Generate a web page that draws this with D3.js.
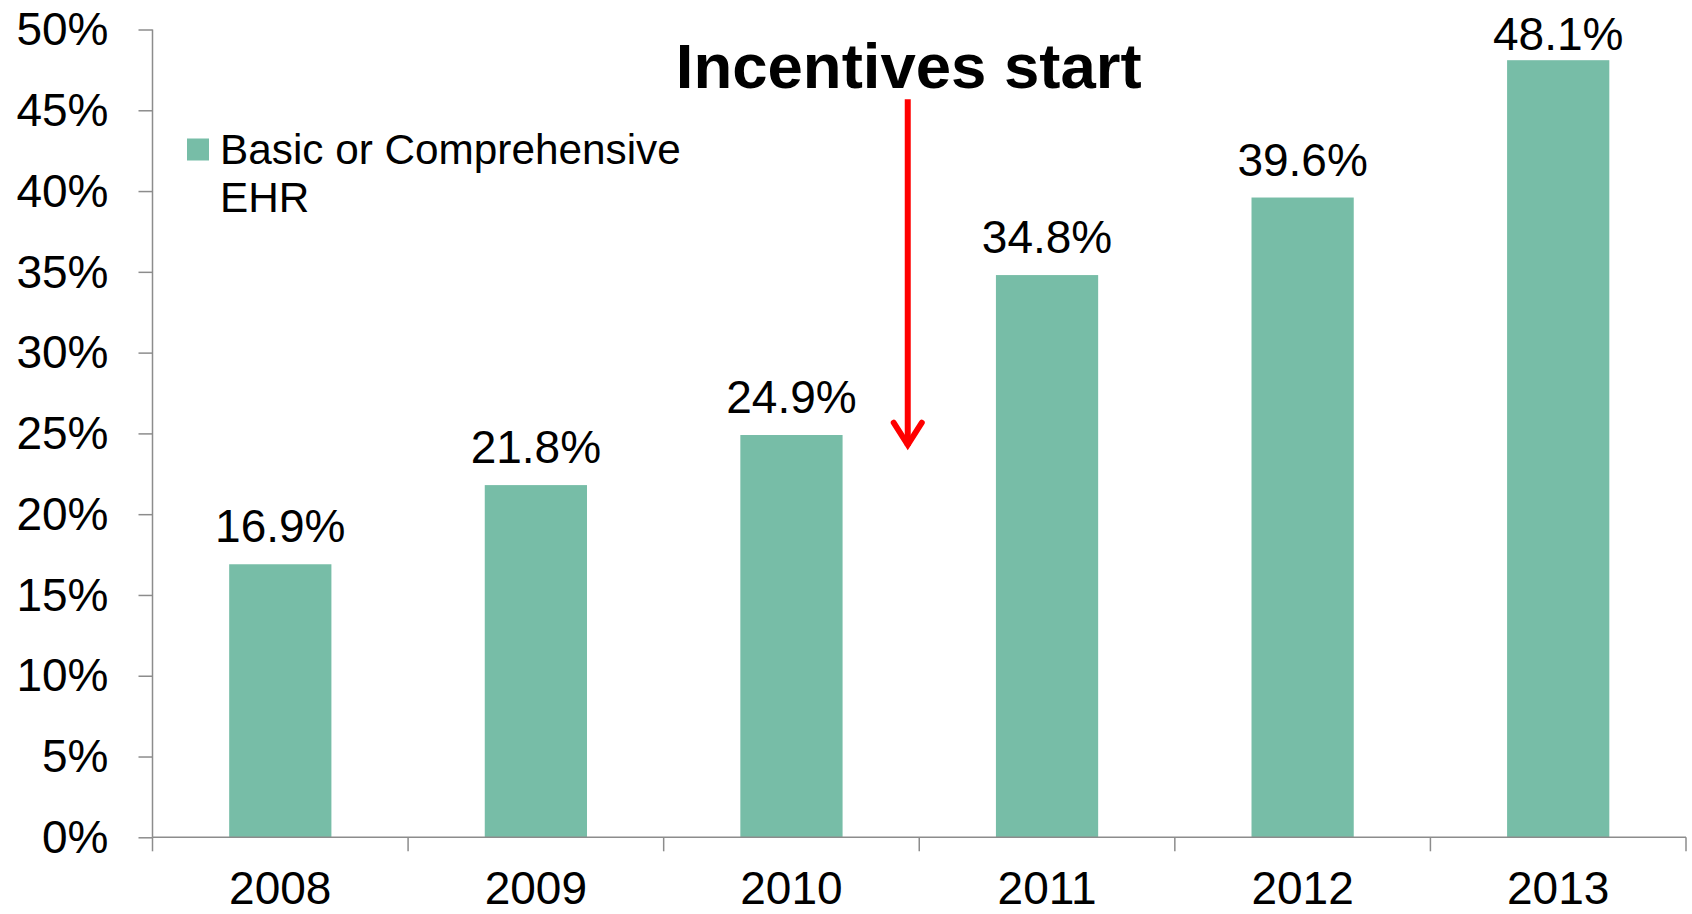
<!DOCTYPE html>
<html>
<head>
<meta charset="utf-8">
<script src="https://cdn.jsdelivr.net/npm/d3@7"></script>
<style>
  html, body { margin: 0; padding: 0; background: #ffffff; }
  svg { display: block; }
  text { font-family: "Liberation Sans", Arial, sans-serif; fill: #000; }
</style>
</head>
<body>
<svg id="chart" width="1692" height="914"></svg>
<script>
const years = ["2008", "2009", "2010", "2011", "2012", "2013"];
const values = [0.169, 0.218, 0.249, 0.348, 0.396, 0.481];
const valueLabels = ["16.9%", "21.8%", "24.9%", "34.8%", "39.6%", "48.1%"];
const yTicks = [0, 0.05, 0.10, 0.15, 0.20, 0.25, 0.30, 0.35, 0.40, 0.45, 0.50];
const seriesName = ["Basic or Comprehensive", "EHR"];
const annotationText = "Incentives start";

const plotL = 152.5, plotR = 1686, plotT = 29.5, plotB = 837.3;
const barColor = "#77BDA7";
const axisColor = "#8C8C8C";

const svg = d3.select("#chart");

const x = d3.scaleBand().domain(years).range([plotL, plotR]).paddingInner(0.6).paddingOuter(0.3);
const y = d3.scaleLinear().domain([0, 0.5]).range([plotB, plotT]);

// Bars
svg.append("g").selectAll("rect").data(values).join("rect")
  .attr("x", (d, i) => x(years[i]))
  .attr("y", d => y(d))
  .attr("width", x.bandwidth())
  .attr("height", d => y(0) - y(d))
  .attr("fill", barColor);

// Value labels
svg.append("g").selectAll("text").data(values).join("text")
  .attr("x", (d, i) => x(years[i]) + x.bandwidth() / 2)
  .attr("y", d => Math.max(y(d) - 22, 50))
  .attr("text-anchor", "middle")
  .attr("font-size", 46)
  .text((d, i) => valueLabels[i]);

// Y axis
const yAxis = d3.axisLeft(y).tickValues(yTicks).tickSize(14).tickPadding(30)
  .tickFormat(d3.format(".0%"));
const gy = svg.append("g").attr("transform", `translate(${plotL},0)`).call(yAxis);
gy.select(".domain").attr("stroke", axisColor).attr("stroke-width", 1.5).attr("d", `M0,${plotT}V${plotB}`);
gy.selectAll(".tick line").attr("stroke", axisColor).attr("stroke-width", 1.5);
gy.selectAll(".tick text").attr("font-size", 46).attr("font-family", "Liberation Sans, Arial, sans-serif")
  .attr("fill", "#000").attr("dy", "0.33em");

// X axis: boundary ticks
const boundaries = years.map(yr => x(yr) - x.step() * x.paddingOuter()).concat([plotR]);
const gx = svg.append("g");
gx.append("line").attr("x1", plotL).attr("x2", plotR).attr("y1", plotB).attr("y2", plotB)
  .attr("stroke", axisColor).attr("stroke-width", 1.5);
gx.selectAll("line.tk").data(boundaries).join("line").attr("class", "tk")
  .attr("x1", d => d).attr("x2", d => d).attr("y1", plotB).attr("y2", plotB + 14)
  .attr("stroke", axisColor).attr("stroke-width", 1.5);
gx.selectAll("text").data(years).join("text")
  .attr("x", d => x(d) + x.bandwidth() / 2)
  .attr("y", plotB + 66.5)
  .attr("text-anchor", "middle")
  .attr("font-size", 46)
  .text(d => d);

// Legend
const lg = svg.append("g");
lg.append("rect").attr("x", 187).attr("y", 138.5).attr("width", 22).attr("height", 22).attr("fill", barColor);
lg.selectAll("text").data(seriesName).join("text")
  .attr("x", 220).attr("y", (d, i) => 163.5 + i * 48.5)
  .attr("font-size", 42.3)
  .text(d => d);

// Annotation
const arrowX = x("2011") - x.step() * 0.345;
svg.append("text")
  .attr("x", arrowX + 1)
  .attr("y", 88)
  .attr("text-anchor", "middle")
  .attr("font-size", 63.5)
  .attr("font-weight", "bold")
  .text(annotationText);

const tipY = y(0.2405);
const topY = y(0.4568);
svg.append("line")
  .attr("x1", arrowX).attr("x2", arrowX)
  .attr("y1", topY).attr("y2", tipY - 3)
  .attr("stroke", "#FF0000").attr("stroke-width", 6);
svg.append("path")
  .attr("d", `M${arrowX - 14},${tipY - 26}L${arrowX},${tipY - 4}L${arrowX + 14},${tipY - 26}`)
  .attr("fill", "none").attr("stroke", "#FF0000").attr("stroke-width", 6)
  .attr("stroke-linecap", "round").attr("stroke-linejoin", "miter");
</script>
</body>
</html>
